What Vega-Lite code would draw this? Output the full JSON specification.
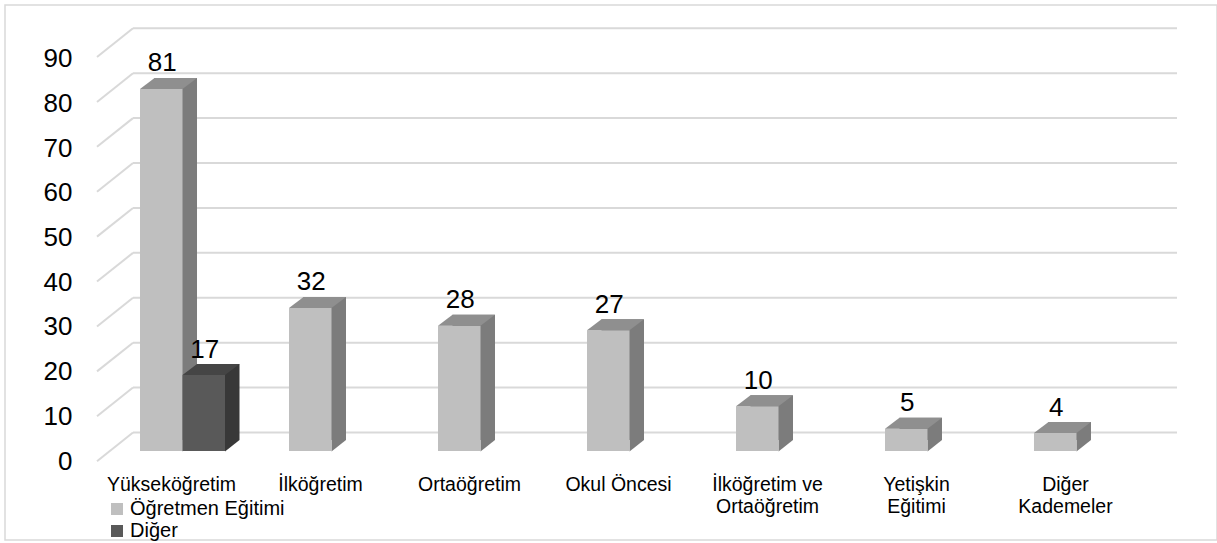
{
  "$schema": "https://vega.github.io/schema/vega-lite/v6.json",
  "width": 1212,
  "height": 535,
  "autosize": {"type": "none"},
  "padding": {"left": 5, "top": 5, "right": 0, "bottom": 3},
  "background": "white",
  "config": {
    "view": {"stroke": "#d9d9d9", "strokeWidth": 1.5},
    "font": "Liberation Sans",
    "axisX": {"domain": false, "ticks": false, "grid": false, "labelFont": "Liberation Sans", "labelFontSize": 19.5, "labelColor": "#000000", "labelAngle": 0, "labelBaseline": "alphabetic", "labelPadding": 0, "offset": -50, "labelOffset": -11, "labelLineHeight": 22, "labelOverlap": false, "labelLimit": 0, "labelFlush": false},
    "axisY": {"domain": false, "ticks": false, "grid": false, "labelFont": "Liberation Sans", "labelFontSize": 26, "labelColor": "#000000", "labelPadding": 0, "offset": -67, "labelOffset": 10, "labelBaseline": "middle", "labelAlign": "right"}
  },
  "datasets": {
    "bars": [
      {"category": "Yükseköğretim", "series": "Öğretmen Eğitimi", "value": 81},
      {"category": "Yükseköğretim", "series": "Diğer", "value": 17},
      {"category": "İlköğretim", "series": "Öğretmen Eğitimi", "value": 32},
      {"category": "Ortaöğretim", "series": "Öğretmen Eğitimi", "value": 28},
      {"category": "Okul Öncesi", "series": "Öğretmen Eğitimi", "value": 27},
      {"category": "İlköğretim ve\nOrtaöğretim", "series": "Öğretmen Eğitimi", "value": 10},
      {"category": "Yetişkin\nEğitimi", "series": "Öğretmen Eğitimi", "value": 5},
      {"category": "Diğer\nKademeler", "series": "Öğretmen Eğitimi", "value": 4}
    ],
    "ticks": [
      {"v": 0}, {"v": 10}, {"v": 20}, {"v": 30}, {"v": 40},
      {"v": 50}, {"v": 60}, {"v": 70}, {"v": 80}, {"v": 90}
    ]
  },
  "resolve": {"scale": {"y": "independent"}},
  "layer": [
    {
      "data": {"name": "ticks"},
      "layer": [
        {
          "mark": {"type": "rule", "color": "#d9d9d9", "strokeWidth": 2, "xOffset": -49.5, "x2Offset": 100.5},
          "encoding": {
            "x": {"datum": "Yükseköğretim", "type": "nominal", "title": null},
            "x2": {"datum": "Diğer\nKademeler"},
            "y": {"field": "v", "type": "quantitative", "scale": {"domain": [0, 90], "range": [427.5, 23.3], "nice": false, "zero": true}, "axis": null}
          }
        },
        {
          "mark": {"type": "rule", "color": "#d9d9d9", "strokeWidth": 2, "xOffset": -85.5, "x2Offset": -49.5, "yOffset": 28.7, "y2Offset": 0},
          "encoding": {
            "x": {"datum": "Yükseköğretim", "type": "nominal", "title": null},
            "x2": {"datum": "Yükseköğretim"},
            "y": {"field": "v", "type": "quantitative", "axis": null},
            "y2": {"field": "v"}
          }
        }
      ]
    },
    {
      "data": {"name": "bars"},
      "resolve": {"scale": {"xOffset": "independent"}},
      "layer": [
        {
          "mark": {"type": "bar", "yOffset": -11, "y2Offset": -11},
          "encoding": {
            "x": {"field": "category", "type": "nominal", "title": null},
            "xOffset": {"field": "series", "type": "nominal", "scale": {"domain": ["Öğretmen Eğitimi", "Diğer"], "range": [14.5, 99.5], "paddingInner": 0, "paddingOuter": 0}},
            "y": {"field": "value", "type": "quantitative", "title": null},
            "color": {"condition": {"test": "datum.series === 'Diğer'", "value": "#383838"}, "value": "#7c7c7c"}
          }
        },
        {
          "layer": [
            {
              "mark": {"type": "point", "shape": "M21.25,0.5L21.25,-11L35.75,-11Z", "size": 4, "filled": true, "opacity": 1, "strokeWidth": 0},
              "encoding": {
                "x": {"field": "category", "type": "nominal", "title": null},
                "xOffset": {"field": "series", "type": "nominal"},
                "y": {"datum": 0, "type": "quantitative"},
                "color": {"condition": {"test": "datum.series === 'Diğer'", "value": "#383838"}, "value": "#7c7c7c"}
              }
            },
            {
              "mark": {"type": "bar"},
              "encoding": {
                "x": {
                  "field": "category", "type": "nominal", "title": null,
                  "sort": ["Yükseköğretim", "İlköğretim", "Ortaöğretim", "Okul Öncesi", "İlköğretim ve\nOrtaöğretim", "Yetişkin\nEğitimi", "Diğer\nKademeler"],
                  "scale": {"domain": ["Yükseköğretim", "İlköğretim", "Ortaöğretim", "Okul Öncesi", "İlköğretim ve\nOrtaöğretim", "Yetişkin\nEğitimi", "Diğer\nKademeler"], "range": [103, 1146], "paddingInner": 0.4295, "paddingOuter": 0.2148},
                  "axis": {"labelExpr": "split(datum.label, '\\n')"}
                },
                "xOffset": {"field": "series", "type": "nominal", "scale": {"domain": ["Öğretmen Eğitimi", "Diğer"], "paddingInner": 0, "paddingOuter": 0}},
                "y": {
                  "field": "value", "type": "quantitative", "title": null,
                  "scale": {"domain": [0, 90], "range": [446, 43.7], "nice": false, "zero": true},
                  "axis": {"orient": "left", "values": [0, 10, 20, 30, 40, 50, 60, 70, 80, 90]}
                },
                "color": {
                  "field": "series", "type": "nominal",
                  "scale": {"domain": ["Öğretmen Eğitimi", "Diğer"], "range": ["#bfbfbf", "#595959"]},
                  "legend": {"orient": "none", "legendX": 102, "legendY": 494, "title": null, "symbolType": "square", "symbolSize": 144, "symbolStrokeWidth": 0, "symbolOpacity": 1, "labelFont": "Liberation Sans", "labelFontSize": 20, "labelColor": "#000000", "labelOffset": 3, "rowPadding": 2, "padding": 0}
                }
              }
            },
            {
              "mark": {"type": "point", "shape": "M-21.25,0L21.25,0L35.75,-11L-6.75,-11Z", "size": 4, "filled": true, "opacity": 1, "strokeWidth": 0},
              "encoding": {
                "x": {"field": "category", "type": "nominal", "title": null},
                "xOffset": {"field": "series", "type": "nominal"},
                "y": {"field": "value", "type": "quantitative", "title": null},
                "color": {"condition": {"test": "datum.series === 'Diğer'", "value": "#454545"}, "value": "#8f8f8f"}
              }
            },
            {
              "mark": {"type": "text", "font": "Liberation Sans", "fontSize": 26, "color": "#000000", "dy": -17.5, "dx": 1, "baseline": "alphabetic"},
              "encoding": {
                "x": {"field": "category", "type": "nominal", "title": null},
                "xOffset": {"field": "series", "type": "nominal"},
                "y": {"field": "value", "type": "quantitative", "title": null},
                "text": {"field": "value", "type": "quantitative"}
              }
            }
          ]
        }
      ]
    }
  ]
}
